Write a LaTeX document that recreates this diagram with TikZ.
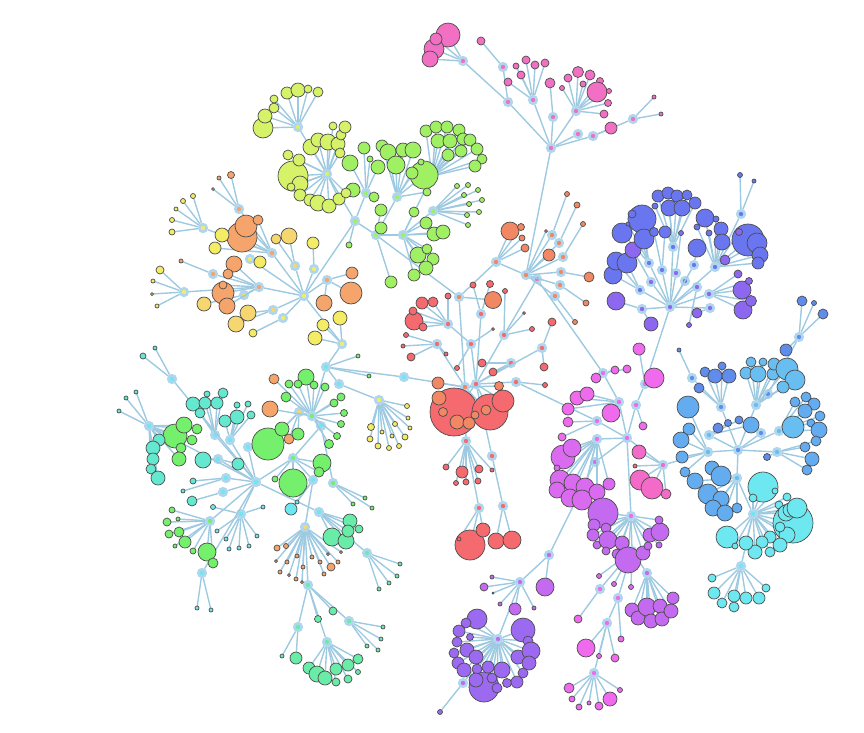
\documentclass[tikz,border=0pt]{standalone}
\usepackage{xcolor}
\usepackage{tikz}

\definecolor{edgeblue}{RGB}{158,202,225}
\definecolor{ringblue}{RGB}{175,214,236}
\definecolor{qpink}{RGB}{241,112,196}
\definecolor{lime}{RGB}{214,242,104}
\definecolor{leafgreen}{RGB}{160,240,100}
\definecolor{peach}{RGB}{245,165,108}
\definecolor{gold}{RGB}{246,214,110}
\definecolor{lemon}{RGB}{244,236,100}
\definecolor{salmon}{RGB}{244,106,110}
\definecolor{coral}{RGB}{242,135,100}
\definecolor{indigo}{RGB}{106,118,240}
\definecolor{iris}{RGB}{140,104,240}
\definecolor{azure}{RGB}{100,172,240}
\definecolor{sky}{RGB}{104,190,240}
\definecolor{steel}{RGB}{96,140,236}
\definecolor{aqua}{RGB}{110,232,240}
\definecolor{fuchsia}{RGB}{240,106,238}
\definecolor{rose}{RGB}{244,106,200}
\definecolor{orchid}{RGB}{218,106,240}
\definecolor{mauve}{RGB}{196,106,240}
\definecolor{grape}{RGB}{156,106,240}
\definecolor{seafoam}{RGB}{100,232,208}
\definecolor{mint}{RGB}{104,236,168}
\definecolor{grass}{RGB}{116,240,108}

\tikzset{
    link/.style={draw=edgeblue, line width=1.4pt},
    leaf/.style={circle, draw=black!70, line width=0.7pt, inner sep=0pt, outer sep=0pt},
    hub/.style={circle, draw=ringblue, line width=2.6pt, minimum size=7.5pt, inner sep=0pt}
}

% hub/tag/colour/{x/y/radius, ...}
\newcommand{\leafdata}{
    q2/a/qpink/{448/35/12, 434/49/10, 430/59/8, 436/39/6},
    q3/a/qpink/{481/41/4},
    q4/a/qpink/{508/82/4, 516/66/3, 521/75/4, 526/60/4, 535/65/4, 545/63/4},
    q5/a/qpink/{550/83/5},
    q6/a/qpink/{562/88/2.5, 568/78/4, 578/72/5.5, 590/75/5, 583/84/3, 600/81/3.5, 597/92/10, 609/91/2.5, 608/103/3.5, 604/114/4},
    q8/a/qpink/{611/128/6},
    q9/a/qpink/{654/97/2, 661/114/2},
    o0/a/salmon/{546/231/1.5},
    o0/b/coral/{549/255/6},
    o1/a/coral/{567/194/2.5},
    o2/a/coral/{577/205/3},
    o3/a/coral/{583/224/2.5},
    o4/a/coral/{589/277/5},
    o5/a/coral/{586/303/3},
    o6/a/coral/{575/322/2.5},
    o7/a/coral/{510/231/9, 521/227/3.5, 522/238/3, 525/248/4},
    o8/a/coral/{493/300/8.5},
    r1/a/salmon/{473/285/3, 490/284/3.5},
    r2/a/salmon/{457/368/2.5, 493/329/1.5},
    r3/a/salmon/{422/303/6, 433/302/5, 414/321/9, 413/311/4, 423/327/4, 448/296/3},
    r4/a/salmon/{406/335/2.5, 403/346/2, 411/357/4, 446/354/2},
    r5/a/salmon/{505/291/2.5, 524/313/1.5, 532/329/2.5},
    r6/a/salmon/{552/322/4, 544/367/4},
    r7/a/salmon/{482/363/4, 493/372/4},
    r8/a/salmon/{545/385/2.5},
    c1/a/salmon/{454/412/24, 490/412/18, 503/401/11},
    c0/a/coral/{438/383/6, 439/398/7, 443/412/4.5, 457/422/7, 469/423/6, 475/415/4, 486/410/5, 499/386/4.5},
    c2/a/salmon/{446/467/3, 462/472/6, 479/469/4, 456/483/2.5, 466/482/3, 478/481/3, 492/470/2},
    c4/a/salmon/{470/545/15, 483/530/7, 459/539/2},
    c5/a/salmon/{496/541/8, 512/540/9},
    G1/a/leafgreen/{350/163/8, 364/148/6, 370/159/3, 378/167/7, 353/190/7, 374/197/5},
    G2/a/leafgreen/{382/146/6, 388/152/8, 396/165/9, 403/150/7, 413/150/8, 424/175/14, 412/173/6, 421/162/3, 427/192/4},
    G6/a/leafgreen/{426/131/6, 436/127/6, 447/127/6, 459/130/6, 438/141/7, 450/141/7, 463/139/6, 470/140/6, 477/149/6, 482/159/5, 461/151/6, 448/155/6, 475/166/6},
    G5/a/leafgreen/{457/186/2.5, 468/185/2.5, 464/195/2.5, 478/190/2.5, 469/204/2.5, 482/200/2.5, 467/215/2.5, 479/212/2.5, 468/225/2.5},
    G4/a/leafgreen/{414/212/5, 426/223/6, 434/234/7, 443/232/7, 418/255/8, 427/249/5, 433/259/6, 426/268/7, 414/275/6},
    G3/a/leafgreen/{381/210/6, 381/228/6, 391/282/6},
    G0/a/leafgreen/{349/245/3},
    M1/a/lime/{293/176/15, 300/184/8, 288/155/5, 299/160/6, 311/147/8, 318/140/7, 328/142/8, 338/144/7, 341/135/5, 345/127/6, 333/126/4, 340/153/5, 300/195/6, 310/200/6, 318/203/8, 329/206/7, 339/199/6, 346/193/5, 291/187/4},
    M0/a/lime/{263/128/10, 265/116/7, 274/108/5, 274/99/4, 287/93/6, 298/90/7, 308/89/4, 318/92/5},
    Y1/a/lemon/{172/232/3, 172/220/2.5, 176/209/2, 183/201/2.5, 193/196/2.5},
    O1/a/peach/{231/175/3.5, 219/178/2, 213/189/1.5},
    O2/a/peach/{242/237/15, 246/226/11, 258/220/5},
    O2/b/lemon/{222/235/7, 215/248/6},
    Y2/a/lemon/{260/262/6},
    Y3/a/gold/{276/239/5, 289/236/8},
    Y4/a/lemon/{313/243/6},
    O3/a/peach/{181/261/2},
    O4/a/peach/{234/264/8, 228/274/5, 223/293/11, 223/285/4, 227/306/8},
    Y5/a/gold/{204/304/7},
    Y6/a/lemon/{160/270/4, 153/281/2, 152/294/1.5, 157/306/2},
    Y7/a/gold/{248/313/8, 236/324/8},
    Y8/a/lemon/{253/333/4},
    O5/a/peach/{352/273/6, 351/293/11, 324/303/8},
    y2/a/lemon/{340/318/7, 323/325/6, 315/338/7},
    g0/a/grass/{306/377/8, 298/384/4, 289/384/4, 314/385/4, 325/387/4, 286/397/5, 334/403/4, 341/397/4, 344/413/3.5, 341/424/3.5, 337/436/3.5, 329/444/4.5},
    g0/b/peach/{274/379/5, 270/409/8},
    k1/a/grass/{358/356/2, 369/376/2},
    y0/b/peach/{289/439/5},
    y0/a/grass/{268/444/16, 282/429/7, 298/434/6},
    g1/a/grass/{293/483/14, 322/463/9, 319/472/5, 275/479/3},
    k4/a/aqua/{291/509/6, 297/502/2},
    g2/a/grass/{365/498/2, 353/504/2, 372/508/2},
    y1/a/lemon/{407/406/2.5, 408/418/2, 410/428/2, 405/437/3, 399/446/2.5, 389/448/2.5, 378/446/3, 370/439/3, 371/427/3.5, 382/432/2, 392/436/2, 395/424/2.5},
    Ta/a/seafoam/{207/394/3, 223/393/5, 193/404/7, 205/403/6, 217/403/6, 200/413/5},
    Tb/a/seafoam/{237/405/3, 248/404/3, 237/417/7, 251/415/4, 225/421/6},
    Td/a/seafoam/{203/460/8, 238/464/6},
    Te/a/seafoam/{193/481/3, 183/491/2},
    Tf/a/seafoam/{192/501/5},
    T2/a/grass/{175/436/12, 184/425/8, 192/440/5, 181/448/5, 179/459/7, 197/429/5},
    T2/b/seafoam/{159/440/6, 153/448/7, 153/459/6, 151/469/5, 158/478/7, 136/392/2, 126/398/2, 119/411/2},
    T1/a/seafoam/{143/356/3, 155/348/2},
    T10/a/grass/{172/510/3, 178/519/2, 167/522/4, 179/532/5, 169/534/4, 185/542/6, 175/546/2, 193/551/3, 207/552/9, 213/563/5},
    T9/a/aqua/{263/507/2, 213/507/2.5, 217/531/2, 226/539/2, 229/549/2, 239/548/2, 249/546/2, 257/536/2},
    T11/a/aqua/{197/608/2, 211/610/2},
    B0/a/peach/{277/548/3, 286/546/2.5, 276/561/1.5, 287/562/2, 297/556/2, 280/572/2, 289/575/1.5, 296/579/2, 302/582/1.5, 303/567/2, 312/557/2, 320/562/2, 324/574/2, 328/554/1.5, 338/562/2, 331/567/4, 341/552/1.5},
    k6/a/mint/{332/537/9, 346/541/8, 350/521/7, 348/531/6, 359/529/4},
    B1/a/mint/{400/564/2, 397/576/2, 389/583/2, 379/589/2},
    B2/a/mint/{333/611/4, 318/619/3.5},
    B5/a/mint/{383/627/2, 381/639/2, 367/646/2, 378/650/2},
    B3/a/mint/{282/656/2, 296/658/6},
    B4/a/mint/{309/668/6, 317/674/8, 325/678/7, 336/669/6, 348/665/6, 358/659/5, 348/679/4, 358/672/2.5, 336/682/4},
    V1/a/iris/{616/301/9, 651/324/7},
    V2/a/indigo/{613/275/9, 616/261/9, 627/263/10},
    V3/a/iris/{633/250/8},
    V4/a/indigo/{622/233/10, 642/219/14, 644/239/10, 632/214/4, 628/224/2},
    V5/a/indigo/{654/232/4.5, 665/232/6},
    V6/a/iris/{681/233/2.5},
    V7/a/indigo/{658/196/6, 668/193/6, 677/196/6, 687/195/5, 695/203/6, 655/206/3, 669/208/8, 682/208/8},
    V10/a/indigo/{697/248/9},
    V12/a/indigo/{705/218/9, 697/227/3, 709/233/3, 716/219/3, 721/229/7, 722/242/8, 748/240/16, 757/243/10, 760/255/8, 758/263/6},
    V12/b/iris/{739/232/3.5, 725/260/5},
    V9/a/iris/{689/325/2.5},
    V13/a/iris/{697/313/5},
    V11/a/iris/{743/310/9, 751/301/5.5, 742/290/9, 749/281/3.5, 738/274/4},
    V14/a/indigo/{740/175/2.5, 754/181/2},
    U3/a/steel/{705/372/5, 715/376/7, 722/366/4, 729/376/7, 699/388/5},
    U4/a/steel/{679/350/2},
    U5/a/sky/{746/373/6, 751/362/5, 758/374/8, 763/362/4, 773/374/6, 774/364/6, 787/369/11, 795/380/10, 783/387/6},
    U8/a/azure/{795/402/5, 806/397/5, 814/404/6, 805/411/7, 820/416/5, 811/423/4, 819/430/8},
    U8/b/sky/{793/427/11},
    U9/a/azure/{816/441/5, 805/447/5, 812/459/7, 807/470/5},
    U9/b/steel/{767/457/3.5},
    U1/a/azure/{688/407/11, 689/429/6, 681/440/8, 682/457/6, 685/472/5},
    U10/a/azure/{695/481/8, 712/468/7, 708/494/10, 721/476/10, 721/499/8, 713/508/8, 725/513/8, 737/508/5},
    U2/a/steel/{718/428/5, 728/423/3.5, 739/420/4},
    U2/b/azure/{751/425/8},
    U11/a/steel/{802/301/5, 814/303/2.5, 823/314/5, 786/350/6},
    C0/a/aqua/{793/523/20, 763/487/15, 775/491/3, 753/498/4, 787/497/4, 779/505/4, 786/513/8, 790/510/7, 797/508/10, 787/535/8, 780/527/5, 780/545/7, 770/537/6, 762/542/6, 770/552/5, 755/552/7, 746/543/7, 727/537/11, 735/546/3},
    C1/a/aqua/{712/578/4, 714/593/6, 722/603/5, 734/607/5, 734/596/6, 746/598/6, 759/598/6, 766/588/4},
    P1/a/fuchsia/{577/398/7, 587/394/7, 568/409/6, 611/413/9},
    P5/a/fuchsia/{568/422/5, 562/437/4},
    P3/a/fuchsia/{639/349/6, 654/378/10},
    P8/a/fuchsia/{596/378/5, 615/370/4, 627/369/4},
    P2/a/fuchsia/{643/426/4},
    P6/a/orchid/{563/457/12, 572/448/9, 557/468/3, 560/480/10, 557/490/8, 573/483/9, 585/487/9, 570/498/9, 582/500/10, 597/492/8, 609/484/6},
    P4/a/rose/{639/452/7, 640/480/10, 652/488/11, 666/494/5},
    P4/b/salmon/{635/466/2},
    W0/a/mauve/{603/513/15, 594/525/6, 606/528/5, 593/535/6, 597/545/4, 608/540/9, 622/543/7, 606/551/4, 617/554/5, 628/560/13, 643/553/7, 648/546/4, 650/535/7, 660/532/9, 659/520/4, 659/545/3},
    W3/a/mauve/{632/610/7, 638/618/7, 647/607/9, 651/621/7, 660/606/7, 662/619/7, 671/611/7, 673/598/6},
    W2/a/orchid/{599/576/2.5, 614/584/2.5, 631/587/2.5},
    W5/a/fuchsia/{578/619/4},
    W4/a/fuchsia/{621/639/3},
    W6/a/fuchsia/{586/648/9, 599/656/2.5, 615/658/4},
    W7/a/fuchsia/{569/688/5, 572/699/3, 579/707/3, 589/703/2, 599/706/4, 610/699/7, 620/690/2.5},
    W1/a/mauve/{545/587/9},
    X1/a/mauve/{492/577/2, 484/587/4, 493/593/1, 500/604/2, 515/609/6, 534/608/2},
    X0/a/grape/{484/687/15, 523/630/12, 477/619/10, 466/623/5, 459/631/6, 470/637/3.5, 457/642/5, 454/653/5, 467/650/7, 476/657/7, 458/663/6, 464/670/7, 477/669/5, 488/667/6, 476/680/7, 492/678/5, 497/688/5, 502/670/8, 507/683/4.5, 517/682/6, 523/673/5, 518/657/7, 528/641/5, 531/651/9, 529/663/7},
    X2/a/grape/{440/712/2.5}}

\begin{document}
\begin{tikzpicture}[x=1pt, y=-1pt]
    \useasboundingbox (0,0) rectangle (864,732);

    % Hubs
    \foreach \n/\x/\y/\c in {
        q0/551/148/qpink, q1/508/102/qpink, q2/463/61/qpink, q3/503/67/qpink, q4/533/100/qpink,
        q5/553/117/qpink, q6/576/111/qpink, q7/578/134/qpink, q8/593/136/qpink, q9/633/119/qpink,
        o0/526/275/coral, p0/537/279/rose, o1/552/235/coral, o2/559/243/coral, o3/563/257/coral,
        o4/561/272/coral, o5/560/285/coral, o6/555/296/coral, o7/496/262/coral, o8/459/297/coral,
        r1/481/314/salmon, r2/471/344/salmon, r3/448/324/salmon, r4/437/344/salmon, r5/504/335/salmon,
        r6/542/348/salmon, r7/511/363/salmon, r8/516/382/salmon,
        c0/465/387/coral, c1/476/384/salmon, c2/466/441/salmon, c3/492/456/salmon, c4/479/508/salmon, c5/503/506/salmon,
        k0/404/377/aqua, k1/326/367/aqua, k2/339/384/aqua, k3/321/426/aqua, k4/313/480/aqua, k5/248/447/aqua, k6/319/512/aqua,
        g0/312/416/grass, g1/293/458/grass, g2/333/483/grass, y0/299/412/gold, y1/379/400/lemon, y2/342/344/lemon,
        G0/355/221/leafgreen, G1/366/193/leafgreen, G2/397/197/leafgreen, G3/376/235/leafgreen,
        G4/403/235/leafgreen, G5/433/211/leafgreen, G6/432/176/leafgreen,
        M0/298/127/lime, M1/327/174/lime,
        Y0/304/296/lemon, Y1/203/228/lemon, O1/239/209/peach, O2/272/253/peach, Y2/250/259/lemon,
        Y3/295/266/gold, Y4/314/269/lemon, O3/213/274/peach, O4/259/287/peach, Y5/244/295/gold,
        Y6/184/292/lemon, Y7/273/310/gold, Y8/283/318/lemon, O5/327/280/peach,
        L0/256/482/aqua, Ta/215/435/aqua, Tb/230/440/aqua, Td/218/459/aqua, Te/226/478/aqua, Tf/223/492/aqua,
        T1/172/379/aqua, T2/149/426/aqua, T9/241/514/aqua, T10/210/521/grass, T11/202/573/aqua,
        B0/305/527/gold, B1/367/553/mint, B2/308/585/mint, B3/298/627/mint, B4/327/642/mint, B5/349/621/mint,
        V0/670/307/iris, V1/642/309/iris, V2/640/290/indigo, V3/651/282/iris, V4/649/263/indigo,
        V5/662/270/indigo, V6/676/273/iris, V7/673/247/indigo, V8/685/281/indigo, V9/697/287/iris,
        V10/694/265/indigo, V11/709/294/iris, V12/715/267/indigo, V13/710/308/iris, V14/741/214/indigo,
        U0/738/450/steel, U1/708/452/sky, U2/709/435/sky, U3/721/407/steel, U4/692/378/steel,
        U5/756/405/sky, U6/768/394/steel, U7/761/433/steel, U8/779/431/sky, U9/777/452/sky,
        U10/737/478/sky, U11/799/337/steel, C0/753/514/aqua, C1/741/566/aqua,
        P0/627/438/fuchsia, P1/619/402/fuchsia, P2/636/405/fuchsia, P3/645/384/fuchsia, P4/663/465/rose,
        P5/597/421/fuchsia, P6/597/439/fuchsia, P7/595/462/orchid, P8/603/373/fuchsia,
        W0/631/516/fuchsia, W1/549/555/mauve, W2/632/551/fuchsia, W3/647/573/mauve, W4/618/598/fuchsia,
        W5/600/589/fuchsia, W6/607/623/fuchsia, W7/594/673/fuchsia,
        X0/498/639/mauve, X1/520/582/mauve, X2/463/683/mauve}
        \node[hub, fill=\c] (\n) at (\x,\y) {};

    % Links between hubs
    \foreach \a/\b in {
        q0/q1, q1/q2, q1/q3, q0/q4, q0/q5, q0/q6, q0/q7, q0/q8, q8/q9, q0/o0,
        o0/p0, o0/o1, o0/o2, o0/o3, o0/o4, o0/o5, o0/o6, o0/o7, o7/o8, o8/c0, o8/G3,
        c0/c1, c1/r1, c1/r2, r2/r3, c0/r4, p0/r5, r5/c1, c1/r6, c1/r7, c1/r8,
        c0/c2, c1/c3, c2/c4, c3/c5, c0/k0, k0/k1,
        k1/g0, g0/y0, g0/k3, k3/g1, g1/L0, k1/k2, k2/y1, k1/y2, y2/Y0, g1/k4, k4/B0, k3/g2,
        Y0/G0, G0/M1, M1/M0, G0/G1, G0/G3, G3/G2, G3/G4, G4/G5, G4/G6,
        Y0/O2, O2/Y1, O2/O1, Y0/Y2, Y0/Y3, Y0/Y4, Y0/O4, O4/O3, O4/Y6, O4/Y5, Y0/Y7, Y0/Y8, Y0/O5,
        L0/Ta, L0/Tb, L0/k5, L0/Td, L0/Te, L0/Tf, L0/T9, L0/T10, L0/T11, L0/T1, L0/T2, L0/k6,
        B0/B2, B2/B3, B2/B4, B2/B5, k6/B1,
        V0/V1, V0/V2, V0/V3, V0/V4, V0/V5, V0/V6, V0/V7, V0/V8, V0/V9, V0/V10, V0/V11, V0/V12, V0/V13,
        V12/V14, V0/P3,
        U0/U1, U0/U2, U0/U3, U3/U4, U0/U5, U5/U6, U6/U11, U0/U7, U0/U8, U0/U9, U0/U10, U10/C0, C0/C1, U1/P4,
        P0/P1, P0/P2, P2/P3, P0/P4, P0/P5, P0/P6, P0/P7, P8/P1, p0/P8, r8/P5, P0/W0, W0/W2, W2/W3,
        W2/W4, W2/W5, W4/W6, W6/W7, P7/W1, W1/X1, X1/X0, X0/X2}
        \draw[link] (\a) -- (\b);

    % Links from hubs to leaves
    \foreach \h/\t/\c/\L in \leafdata {
        \foreach \x/\y/\r [count=\i] in \L {
            \coordinate (\h\t\i) at (\x,\y);
            \draw[link] (\h) -- (\h\t\i);
        }
    }

    % Leaves
    \foreach \h/\t/\c/\L in \leafdata {
        \foreach \x/\y/\r [count=\i] in \L
            \node[leaf, fill=\c, minimum size=2*\r pt] (\h\t\i n) at (\h\t\i) {};
    }
\end{tikzpicture}
\end{document}
